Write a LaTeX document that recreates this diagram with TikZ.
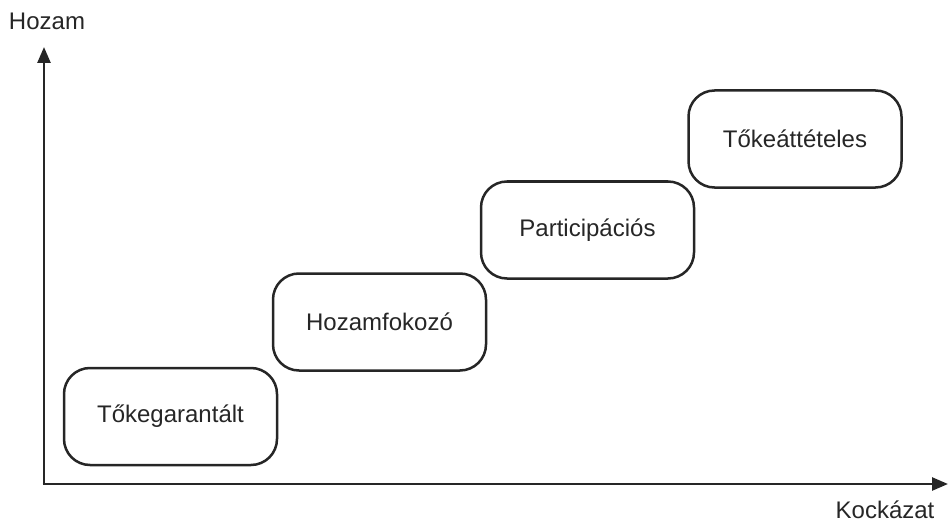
\documentclass[tikz,border=0pt]{standalone}
\usepackage{fontspec}
\setmainfont{Liberation Sans}
\usetikzlibrary{arrows.meta}
\begin{document}
\begin{tikzpicture}[x=1pt,y=-1pt,
  fund/.style={draw=black!85,line width=2.5pt,rounded corners=26pt,minimum width=213pt,minimum height=97pt,inner sep=0pt,font=\fontsize{24}{28}\selectfont,text=black!85},
  axis/.style={draw=black!85,line width=2.6pt,-{Triangle[length=16pt,width=13pt]}},
  lbl/.style={font=\fontsize{24}{28}\selectfont,text=black!85,inner sep=0pt}]
\useasboundingbox (0,0) rectangle (948,524);
\coordinate (o) at (44,484);
\coordinate (ytop) at (44,47);
\coordinate (xend) at (948,484);
\draw[axis] (o) -- (ytop);
\draw[axis] ([xshift=-1.3pt]o) -- (xend);
\node[lbl] (hozam) at (47,21) {Hozam};
\node[lbl] (kock) at (885,510) {Kockázat};
\node[fund] (b1) at (170.5,416.5) {Tőkegarantált};
\node[fund] (b2) at (379.5,322) {Hozamfokozó};
\node[fund] (b3) at (587.5,230) {Participációs};
\node[fund] (b4) at (795,139) {Tőkeáttételes};
\end{tikzpicture}
\end{document}
